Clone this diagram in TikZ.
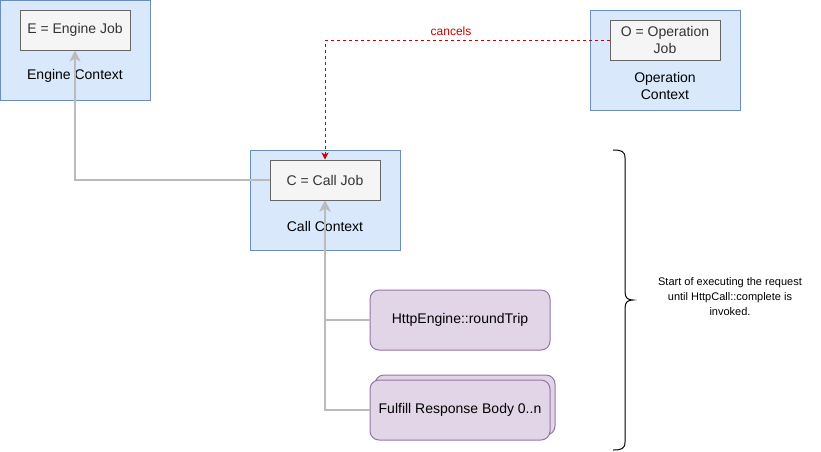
\documentclass[tikz,border=0pt]{standalone}
\usepackage{fontspec}
\setmainfont{Liberation Sans}
\usetikzlibrary{arrows.meta}
\definecolor{ctxfill}{HTML}{DAE8FC}
\definecolor{ctxline}{HTML}{6C8EBF}
\definecolor{jobfill}{HTML}{F5F5F5}
\definecolor{jobline}{HTML}{666666}
\definecolor{jobtext}{HTML}{333333}
\definecolor{purfill}{HTML}{E1D5E7}
\definecolor{purline}{HTML}{9673A6}
\definecolor{flow}{HTML}{BBBBBB}
\definecolor{cancelred}{HTML}{CC0000}
\begin{document}
\begin{tikzpicture}[x=1pt,y=-1pt,
  ctx/.style={draw=ctxline,fill=ctxfill,line width=1pt,minimum width=150pt,minimum height=100pt,inner sep=0pt},
  job/.style={draw=jobline,fill=jobfill,line width=1pt,minimum width=110pt,minimum height=40pt,inner sep=0pt,text=jobtext,font=\fontsize{14}{17}\selectfont,align=center},
  lbl/.style={font=\fontsize{14}{17}\selectfont,align=center,inner sep=0pt},
  task/.style={draw=purline,fill=purfill,line width=1pt,rounded corners=9pt,minimum width=180pt,minimum height=60pt,inner sep=0pt,font=\fontsize{14}{17}\selectfont},
  flowline/.style={draw=flow,line width=2pt,-{Stealth[width=11pt,length=11pt,inset=3pt]}},
  cancelline/.style={draw=cancelred,line width=0.9pt,dash pattern=on 3pt off 3pt,-{Stealth[width=7pt,length=7pt,inset=2pt]}}
]
\useasboundingbox (0,0) rectangle (821,451);
% contexts
\node[ctx] (ectx) at (75,50) {};
\node[ctx] (cctx) at (325,200) {};
\node[ctx] (octx) at (665,60) {};
% jobs
\node[job] (ejob) at (75,30) {E = Engine Job};
\node[job] (cjob) at (325,180) {C = Call Job};
\node[job] (ojob) at (665,40) {O = Operation\\Job};
% context labels
\node[lbl] (elbl) at (75,76) {Engine Context};
\node[lbl] (clbl) at (325,226) {Call Context};
\node[lbl] (olbl) at (665,86) {Operation\\Context};
% tasks
\node[task] (rt) at (460,320) {HttpEngine::roundTrip};
\node[task,xshift=5pt,yshift=5pt] (fbback) at (460,410) {};
\node[task] (fb) at (460,410) {Fulfill Response Body 0..n};
% connectors
\coordinate (ebend) at (75,180);
\draw[flowline] (cjob.west) -- (ebend) -- (ejob.south);
\coordinate (rbend) at (325,320);
\coordinate (fbend) at (325,410);
\draw[flowline] (fb.west) -- (fbend) -- (cjob.south);
\draw[flowline] (rt.west) -- (rbend) -- (cjob.south);
\coordinate (cbend) at (325,40);
\draw[cancelline] (ojob.west) -- (cbend) -- (cjob.north);
\node[text=cancelred,font=\fontsize{12}{14}\selectfont,inner sep=0pt] (cancels) at (451,31) {cancels};
% brace
\coordinate (btop) at (613,150);
\coordinate (bbot) at (613,450);
\coordinate (btip) at (633,300);
\draw[line width=1pt] (btop) .. controls (621,150) and (625,151) .. (625,158) -- (625,292) .. controls (625,298) and (628,300) .. (btip)
  .. controls (628,300) and (625,302) .. (625,308) -- (625,442) .. controls (625,449) and (621,450) .. (bbot);
\node[font=\fontsize{11}{15}\selectfont,align=center,inner sep=0pt] (note) at (730,297) {Start of executing the request\\until HttpCall::complete is\\invoked.};
\end{tikzpicture}
\end{document}
